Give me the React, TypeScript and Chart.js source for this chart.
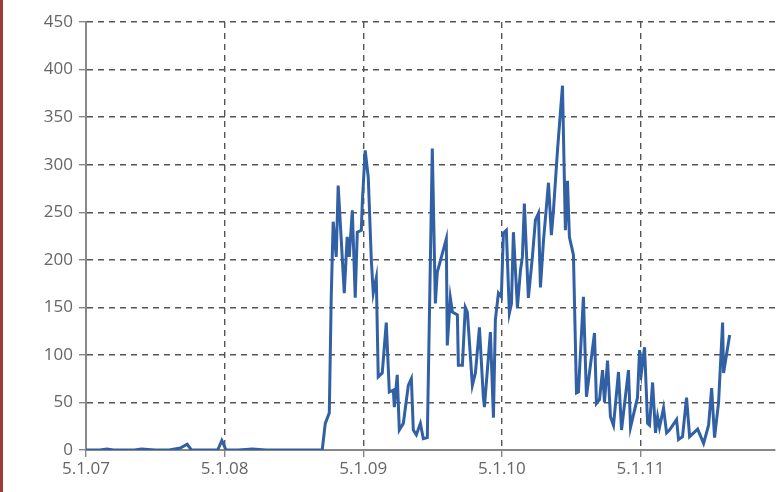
import { useEffect, useRef } from 'react'
import { Chart, registerables } from 'chart.js'

Chart.register(...registerables)

// x: years after 5.1.07, y: value
const xYears = [
  0, 0.1, 0.15, 0.2, 0.35, 0.4, 0.5, 0.6, 0.68, 0.73, 0.76, 0.85, 0.95, 0.98, 1.01, 1.1, 1.2, 1.3, 1.45, 1.6,
  1.704, 1.726, 1.755, 1.769, 1.783, 1.805, 1.819, 1.863, 1.884, 1.899, 1.921, 1.942, 1.957, 1.986, 1.993,
  2.014, 2.036, 2.058, 2.072, 2.094, 2.108, 2.137, 2.166, 2.188, 2.217, 2.224, 2.245, 2.26, 2.289, 2.325,
  2.347, 2.361, 2.383, 2.412, 2.433, 2.462, 2.498, 2.52, 2.534, 2.599, 2.606, 2.628, 2.643, 2.679, 2.686,
  2.715, 2.736, 2.751, 2.787, 2.809, 2.838, 2.866, 2.874, 2.917, 2.939, 2.953,
  2.975, 2.996, 3.011, 3.032, 3.054, 3.069, 3.083, 3.112, 3.134, 3.148, 3.162, 3.191, 3.22, 3.242, 3.264,
  3.278, 3.3, 3.336, 3.357, 3.372, 3.401, 3.437, 3.458, 3.473, 3.487, 3.516, 3.538, 3.552, 3.588, 3.61,
  3.668, 3.682, 3.704, 3.726, 3.74, 3.762, 3.783, 3.805, 3.841, 3.863, 3.913, 3.928, 3.978, 3.993, 4.007,
  4.029, 4.051, 4.065, 4.087, 4.108, 4.123, 4.137, 4.166, 4.188, 4.209, 4.26, 4.274, 4.303, 4.332, 4.354,
  4.412, 4.455, 4.491, 4.513, 4.534, 4.563, 4.592, 4.599, 4.643,
]
const values = [
  0, 0, 1, 0, 0, 1, 0, 0, 2, 6, 0, 0, 0, 10, 0, 0, 1, 0, 0, 0,
  0, 28, 39, 161, 240, 203, 278, 165, 224, 203, 252, 160, 229, 231, 260,
  315, 287, 200, 165, 181, 77, 81, 134, 61, 63, 45, 79, 21, 28, 68,
  75, 21, 16, 28, 12, 13, 317, 154, 187, 222, 110, 160, 145, 142, 89,
  89, 150, 145, 68, 81, 129, 56, 45, 124, 34, 137,
  165, 161, 228, 231, 144, 154, 229, 150, 189, 203, 259, 160, 203, 242, 249,
  171, 220, 281, 226, 252, 315, 383, 231, 283, 224, 205, 60, 61, 161, 56,
  123, 49, 53, 84, 50, 94, 35, 26, 82, 21, 84, 24, 55, 105, 82,
  108, 28, 26, 71, 18, 35, 24, 44, 18, 21, 32, 11, 14, 55, 14,
  22, 7, 26, 65, 13, 50, 134, 81, 121,
]
const yearLabels = ['5.1.07', '5.1.08', '5.1.09', '5.1.10', '5.1.11']

export default function App() {
  const canvasRef = useRef<HTMLCanvasElement>(null)

  useEffect(() => {
    document.body.style.margin = '0'
    const ctx = canvasRef.current?.getContext('2d')
    if (!ctx) return
    const font = { family: 'Open Sans', size: 17 }
    const grid = {
      color: (c: any) => (c.tick && c.tick.value === 0 ? 'transparent' : '#555'),
      lineWidth: 1.4,
      tickLength: 7,
      tickColor: '#888',
      tickBorderDash: [],
    }
    const chart = new Chart(ctx, {
      type: 'line',
      data: {
        datasets: [{
          data: xYears.map((x, i) => ({ x, y: values[i] })),
          borderColor: '#3160a5',
          borderWidth: 3,
          pointRadius: 0,
          tension: 0,
        }],
      },
      options: {
        animation: false,
        responsive: false,
        layout: { padding: { top: 22, right: 7, left: 0, bottom: 0 } },
        plugins: { legend: { display: false }, tooltip: { enabled: false } },
        scales: {
          x: {
            type: 'linear',
            min: 0,
            max: 4.97,
            afterBuildTicks: (s: any) => { s.ticks = [0, 1, 2, 3, 4].map(v => ({ value: v })) },
            afterFit: (s: any) => { s.height = 42 },
            ticks: { color: '#666', font, padding: 2, callback: (v: any) => yearLabels[v] ?? '' },
            grid,
            border: { display: true, color: '#888', width: 2, dash: [6, 5] },
          },
          y: {
            min: 0,
            max: 450,
            ticks: { stepSize: 50, color: '#666', font, padding: 6 },
            afterFit: (s: any) => { s.width = 83 },
            grid,
            border: { display: true, color: '#888', width: 2, dash: [6, 5] },
          },
        },
      },
    } as any)
    return () => chart.destroy()
  }, [])

  return (
    <div style={{ borderLeft: '3px solid #a33a3a', width: 779, height: 492, background: '#fff' }}>
      <canvas ref={canvasRef} width={779} height={492} />
    </div>
  )
}
